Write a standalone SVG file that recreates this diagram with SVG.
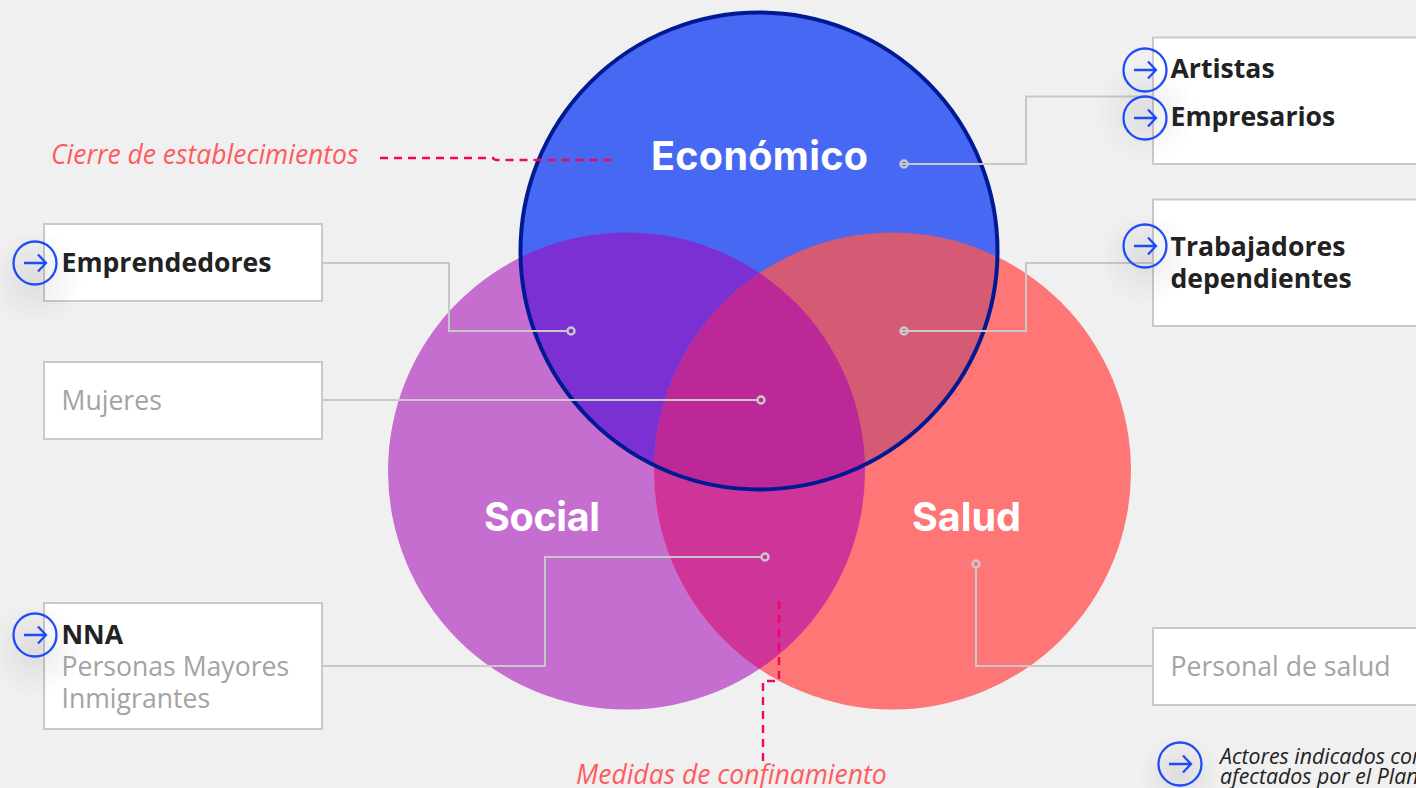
<svg xmlns="http://www.w3.org/2000/svg" width="1416" height="788" viewBox="0 0 1416 788">
<style>
.box{fill:#fff;stroke:#c9c9c9;stroke-width:2}
.conn{fill:none;stroke:#c8c8c8;stroke-width:2}
.dot{fill:none;stroke:#c8c8c8;stroke-width:2.500}
.dash{fill:none;stroke:#f5035f;stroke-width:2.400;stroke-dasharray:8 6}
.b{font:700 26.600px "Open Sans",sans-serif;fill:#222}
.g{font:400 26.600px "Open Sans",sans-serif;fill:#a3a3a3}
.t{font:700 39.500px "Inter","Open Sans",sans-serif;fill:#fff}
.r{font:italic 400 26.500px "Open Sans",sans-serif;fill:#ff5b5f}
.n{font:italic 400 21.300px "Open Sans",sans-serif;fill:#222}
.ic{fill:none;stroke:#1f4bfa;stroke-width:2.300}
</style>
<defs>
<clipPath id="cT"><circle cx="759" cy="251" r="238.500"/></clipPath>
<clipPath id="cL"><circle cx="626.500" cy="471" r="238.500"/></clipPath>
<clipPath id="cR"><circle cx="892.500" cy="471" r="238.500"/></clipPath>
<radialGradient id="sh"><stop offset="0" stop-color="#000" stop-opacity=".08"/><stop offset=".55" stop-color="#000" stop-opacity=".035"/><stop offset="1" stop-color="#000" stop-opacity="0"/></radialGradient>
<g id="arrow"><circle class="ic" r="21.500"/><path class="ic" d="M-11 0H11M3-8.500L11 0L3 8.500"/></g>
</defs>
<rect width="1416" height="788" fill="#f0f0f0"/>
<g id="circulos">
<circle cx="626.500" cy="471" r="238.500" fill="#c66dd0"/>
<circle cx="892.500" cy="471" r="238.500" fill="#ff7676"/>
<circle cx="759" cy="251" r="238.500" fill="#4668f2"/>
<g clip-path="url(#cL)"><circle cx="892.500" cy="471" r="238.500" fill="#cf3499"/><circle cx="759" cy="251" r="238.500" fill="#7b30d3"/></g>
<g clip-path="url(#cR)"><circle cx="759" cy="251" r="238.500" fill="#d55a73"/></g>
<g clip-path="url(#cL)"><g clip-path="url(#cR)"><circle cx="759" cy="251" r="238.500" fill="#bc2897"/></g></g>
<circle cx="759" cy="251" r="238.500" fill="none" stroke="#001a94" stroke-width="4"/>
</g>
<g id="connectors">
<path class="conn" d="M900.500 164H1026V96.500H1153"/>
<path class="conn" d="M900.500 331H1026V263H1153"/>
<path class="conn" d="M323 263H449V331H567.500"/>
<path class="conn" d="M323 400H757.500"/>
<path class="conn" d="M323 666H545V557H761.500"/>
<path class="conn" d="M976 567.500V666H1153"/>
<circle class="dot" cx="904" cy="164" r="3.500"/>
<circle class="dot" cx="904" cy="331" r="3.500"/>
<circle class="dot" cx="571" cy="331" r="3.500"/>
<circle class="dot" cx="761" cy="400" r="3.500"/>
<circle class="dot" cx="765" cy="557" r="3.500"/>
<circle class="dot" cx="976" cy="564" r="3.500"/>
<path class="dash" d="M380 158H493Q494 160 497 160H612"/>
<path class="dash" d="M779 601V681H763V761"/>
</g>
<g id="n-artistas">
<rect class="box" x="1153" y="37.500" width="270" height="126.500"/>
<circle cx="1146" cy="112" r="50" fill="url(#sh)"/>
<text class="b" x="1170.500" y="78">Artistas</text>
<text class="b" x="1170.500" y="126">Empresarios</text>
<use href="#arrow" x="1145" y="70"/>
<use href="#arrow" x="1145" y="118"/>
</g>
<g id="n-trabajadores">
<rect class="box" x="1153" y="199.500" width="270" height="126.500"/>
<circle cx="1146" cy="258" r="48" fill="url(#sh)"/>
<text class="b" x="1170.500" y="256">Trabajadores</text>
<text class="b" x="1170.500" y="288">dependientes</text>
<use href="#arrow" x="1145" y="246"/>
</g>
<g id="n-personal">
<rect class="box" x="1153" y="628" width="270" height="77"/>
<text class="g" x="1170.500" y="676">Personal de salud</text>
</g>
<g id="n-emprendedores">
<rect class="box" x="44" y="224" width="278" height="77"/>
<circle cx="35" cy="278" r="48" fill="url(#sh)"/>
<text class="b" x="61.500" y="272">Emprendedores</text>
<use href="#arrow" x="35" y="263"/>
</g>
<g id="n-mujeres">
<rect class="box" x="44" y="362" width="278" height="77"/>
<text class="g" x="61.500" y="410">Mujeres</text>
</g>
<g id="n-nna">
<rect class="box" x="44" y="603" width="278" height="126"/>
<circle cx="35" cy="650" r="48" fill="url(#sh)"/>
<text class="b" x="61.500" y="644">NNA</text>
<text class="g" x="61.500" y="676">Personas Mayores</text>
<text class="g" x="61.500" y="708">Inmigrantes</text>
<use href="#arrow" x="35" y="635"/>
</g>
<g id="titulos">
<text class="t" x="651" y="169.500" textLength="217">Económico</text>
<text class="t" x="484" y="530.500" textLength="116">Social</text>
<text class="t" x="912" y="530.500" textLength="109">Salud</text>
</g>
<g id="anotaciones">
<text class="r" x="51" y="164">Cierre de establecimientos</text>
<text class="r" x="576" y="784">Medidas de confinamiento</text>
</g>
<g id="leyenda">
<circle cx="1180" cy="775" r="42" fill="url(#sh)"/>
<use href="#arrow" x="1180" y="764"/>
<text class="n" x="1220" y="764">Actores indicados como</text>
<text class="n" x="1220" y="784">afectados por el Plan</text>
</g>
</svg>
